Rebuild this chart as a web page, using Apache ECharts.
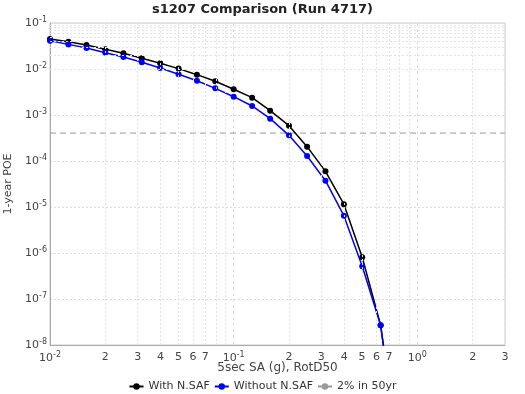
<!DOCTYPE html>
<html><head><meta charset="utf-8">
<script src="https://cdn.jsdelivr.net/npm/echarts@6/dist/echarts.min.js"></script>
<style>html,body{margin:0;padding:0;background:#fff}#c{width:525px;height:394px}</style>
</head><body><div id="c"></div>
<script>
const xValues = [0.01,0.0126,0.0158,0.02,0.0251,0.0316,0.0398,0.0501,0.0631,0.0794,0.1,0.126,0.158,0.2,0.251,0.316,0.398,0.501,0.631,0.794];
const withNSAF = [0.0449,0.0393,0.0333,0.0268,0.0219,0.0171,0.0133,0.0102,0.00753,0.0054,0.00362,0.00238,0.00124,0.000585,0.000205,0.0000595,0.0000115,8.07e-7,2.68e-8,4e-11];
const withoutNSAF = [0.0413,0.0343,0.0286,0.0226,0.0182,0.0140,0.0105,0.00766,0.00557,0.0038,0.0025,0.00157,0.000832,0.000361,0.000128,0.0000373,0.00000647,5.14e-7,2.68e-8,3e-11];
const refLevel = 4.04e-4;
const refX = [0.01, 3];
const xMinorLabelValues = [0.02,0.03,0.04,0.05,0.06,0.07,0.2,0.3,0.4,0.5,0.6,0.7,2,3];
const seriesNames = ['With N.SAF','Without N.SAF','2% in 50yr'];
const titleText = 's1207 Comparison (Run 4717)';
const xName = '5sec SA (g), RotD50';
const yName = '1-year POE';

const FONT = 'DejaVu Sans';
const xMinorGrid = [], yMinorGrid = [];
for (let e = -2; e <= 0; e++) for (let m = 2; m <= 9; m++) { const v = m * Math.pow(10, e); if (v < 3) xMinorGrid.push(v); }
for (let e = -8; e <= -2; e++) for (let m = 2; m <= 9; m++) yMinorGrid.push(m * Math.pow(10, e));

function powLabel(v) {
  const e = Math.round(Math.log10(v));
  if (Math.abs(Math.pow(10, e) - v) / v > 1e-6) return '';
  return '{b|10}{s|' + e + '}';
}
const rich = { b: { fontSize: 11, fontFamily: FONT, color: '#444' }, s: { fontSize: 8, fontFamily: FONT, color: '#444', padding: [0, 0, 7, 0] } };

const chart = echarts.init(document.getElementById('c'), null, { renderer: 'canvas' });
const option = {
  animation: false,
  backgroundColor: '#fff',
  title: { text: titleText, left: 'center', top: -2, textStyle: { fontSize: 13, fontWeight: 'bold', fontFamily: FONT, color: '#222' } },
  grid: { left: 50, right: 20, top: 23, bottom: 49, show: true, borderColor: '#ccc', borderWidth: 1, outerBoundsMode: 'none', containLabel: false },
  legend: {
    data: seriesNames, top: 376, left: 'center', itemWidth: 14, itemHeight: 8, itemGap: 4,
    textStyle: { fontSize: 11, fontFamily: FONT, color: '#333' }
  },
  xAxis: {
    type: 'log', logBase: 10, min: 0.01, max: 3,
    name: xName, nameLocation: 'middle', nameGap: 17, nameMoveOverlap: false,
    nameTextStyle: { fontSize: 12, fontFamily: FONT, color: '#444' },
    axisLine: { lineStyle: { color: '#aaa' } },
    axisTick: { show: false },
    axisLabel: { formatter: powLabel, rich: rich, margin: 6, showMaxLabel: false },
    splitLine: { show: true, lineStyle: { color: '#ddd', type: [3, 3] } }
  },
  yAxis: {
    type: 'log', logBase: 10, min: 1e-8, max: 0.1,
    name: yName, nameLocation: 'middle', nameGap: 31,
    nameTextStyle: { fontSize: 11, fontFamily: FONT, color: '#444' },
    axisLine: { lineStyle: { color: '#aaa' } },
    axisTick: { show: false },
    axisLabel: { formatter: powLabel, rich: rich, margin: 3 },
    splitLine: { show: true, lineStyle: { color: '#ddd', type: [2, 2] } }
  },
  series: [
    {
      name: seriesNames[2], type: 'line', data: refX.map(x => [x, refLevel]),
      symbol: 'none', lineStyle: { color: '#999', width: 1, type: [6, 4] }, itemStyle: { color: '#999' }, z: 1,
      markLine: {
        silent: true, symbol: 'none', label: { show: false }, animation: false,
        lineStyle: { color: '#e4e4e4', width: 1, type: [2, 2] },
        data: xMinorGrid.map(v => ({ xAxis: v })).concat(yMinorGrid.map(v => ({ yAxis: v })))
      }
    },
    {
      name: seriesNames[0], type: 'line', data: xValues.map((x, i) => [x, withNSAF[i]]),
      symbol: 'circle', symbolSize: 6, color: '#000', lineStyle: { color: '#000', width: 1.5 }, itemStyle: { color: '#000' }, z: 3
    },
    {
      name: seriesNames[1], type: 'line', data: xValues.map((x, i) => [x, withoutNSAF[i]]),
      symbol: 'circle', symbolSize: 6, color: '#0000ff', lineStyle: { color: '#0000ff', width: 1.5 }, itemStyle: { color: '#0000ff' }, z: 4
    }
  ]
};
chart.setOption(option);
const baseY = chart.convertToPixel({ yAxisIndex: 0 }, 1e-8);
chart.setOption({
  graphic: xMinorLabelValues.map(v => {
    const e = Math.floor(Math.log10(v) + 1e-9);
    return {
      type: 'text', silent: true,
      x: chart.convertToPixel({ xAxisIndex: 0 }, v), y: baseY + 12,
      style: { text: String(Math.round(v / Math.pow(10, e))), align: 'center', verticalAlign: 'middle', font: '11px "DejaVu Sans"', fill: '#444' }
    };
  })
});
</script>
</body></html>
